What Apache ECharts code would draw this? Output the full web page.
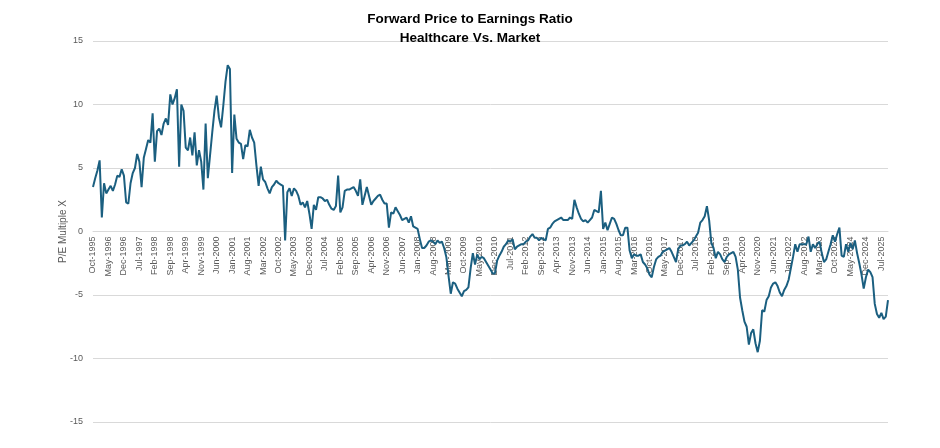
<!DOCTYPE html>
<html>
<head>
<meta charset="utf-8">
<script src="https://cdn.jsdelivr.net/npm/echarts@6/dist/echarts.min.js"></script>
<style>html,body{margin:0;padding:0;background:#fff;}#c{width:940px;height:448px;}</style>
</head>
<body>
<div id="c"></div>
<script>
const titleLines = ['Forward Price to Earnings Ratio', 'Healthcare Vs. Market'];
const yAxisName = 'P/E Multiple X';
const monthNames = ['Jan','Feb','Mar','Apr','May','Jun','Jul','Aug','Sep','Oct','Nov','Dec'];
const startYear = 1995, startMonthIndex = 9; // Oct-1995
const yTicks = { min: -15, max: 15, interval: 5 };

// Monthly values, Oct-1995 .. Oct-2025
const peRelative = [
  3.5, 4.2, 4.8, 5.6, 1.1, 3.8, 3.0, 3.3, 3.6, 3.2,
  3.7, 4.4, 4.3, 4.9, 4.4, 2.3, 2.2, 3.8, 4.6, 5.0,
  6.1, 5.5, 3.5, 5.8, 6.5, 7.2, 7.0, 9.3, 5.5, 7.9,
  8.1, 7.6, 8.5, 8.9, 8.4, 10.8, 10.0, 10.5, 11.2, 5.1,
  10.0, 9.5, 6.6, 6.4, 7.4, 6.0, 7.8, 5.2, 6.4, 5.5,
  3.3, 8.5, 4.2, 6.0, 7.8, 9.5, 10.7, 9.0, 8.2, 9.9,
  11.8, 13.1, 12.8, 4.6, 9.2, 7.3, 7.0, 6.9, 5.7, 6.8,
  6.7, 8.0, 7.4, 7.0, 5.2, 3.6, 5.1, 4.1, 3.9, 3.4,
  3.0, 3.5, 3.7, 4.0, 3.8, 3.7, 3.6, -0.7, 3.1, 3.4,
  2.8, 3.4, 3.2, 2.8, 2.1, 2.3, 1.9, 2.4, 1.4, 0.2,
  2.1, 1.7, 2.7, 2.7, 2.6, 2.4, 2.5, 2.1, 1.8, 1.7,
  2.0, 4.4, 1.5, 1.9, 3.2, 3.3, 3.3, 3.4, 3.5, 3.2,
  2.8, 4.1, 2.1, 2.8, 3.5, 2.8, 2.1, 2.4, 2.6, 2.8,
  2.9, 2.5, 2.2, 2.2, 0.3, 1.5, 1.4, 1.9, 1.6, 1.3,
  0.9, 1.0, 1.1, 0.7, 1.2, 0.4, 0.3, 0.2, -0.6, -1.3,
  -1.3, -1.1, -0.8, -0.7, -0.8, -1.0, -0.7, -0.9, -0.8, -1.3,
  -2.0, -3.5, -4.9, -4.0, -4.1, -4.5, -4.8, -5.1, -4.7, -4.6,
  -4.4, -2.9, -1.7, -2.6, -1.8, -2.2, -2.0, -2.1, -2.4, -2.7,
  -3.0, -3.3, -3.3, -2.3, -1.9, -1.6, -1.2, -1.0, -0.7, -0.8,
  -0.6, -1.4, -1.2, -1.1, -1.0, -1.0, -0.8, -0.7, -0.4, -0.2,
  -0.5, -0.5, -0.7, -0.5, -0.6, -0.7, 0.2, 0.3, 0.6, 0.8,
  0.9, 1.0, 1.1, 0.9, 0.9, 0.9, 1.1, 1.0, 2.5, 1.9,
  1.4, 1.0, 0.8, 0.9, 0.7, 0.9, 1.1, 1.7, 1.6, 1.5,
  3.2, 0.2, 0.7, 0.1, 0.6, 1.1, 1.0, 0.6, 0.1, -0.3,
  -0.3, 0.3, 0.3, -1.5, -2.1, -1.8, -1.9, -1.9, -1.8, -2.4,
  -2.6, -2.9, -3.4, -3.6, -2.8, -2.2, -2.0, -1.9, -1.6, -1.5,
  -1.4, -1.3, -1.6, -2.0, -2.4, -1.4, -1.1, -1.1, -1.0, -0.8,
  -1.1, -0.9, -0.7, -0.4, -0.1, 0.7, 0.9, 1.2, 2.0, 0.9,
  -0.9, -1.3, -2.1, -1.6, -1.8, -2.2, -2.4, -2.0, -1.8, -1.7,
  -1.6, -2.0, -3.0, -5.2, -6.2, -7.1, -7.5, -8.9, -8.0, -7.7,
  -8.8, -9.5, -8.6, -6.2, -6.3, -5.4, -5.1, -4.4, -4.1, -4.0,
  -4.3, -4.8, -5.1, -4.6, -4.3, -3.8, -2.9, -2.0, -1.0, -1.6,
  -1.0, -1.0, -1.0, -1.0, -0.4, -1.6, -1.0, -1.3, -1.0, -0.8,
  -1.7, -2.4, -2.2, -1.6, -1.0, -0.3, -0.8, -0.2, 0.3, -1.9,
  -2.0, -1.0, -1.6, -0.9, -1.4, -0.7, -1.7, -2.5, -3.4, -4.5,
  -3.6, -3.0, -3.2, -3.6, -5.7, -6.5, -6.8, -6.4, -6.9, -6.7,
  -5.4
];

const categories = peRelative.map((_, i) => {
  const m = startMonthIndex + i;
  return monthNames[m % 12] + '-' + (startYear + Math.floor(m / 12));
});

const W = 940, H = 448;
const gridTop = 41, gridBottom = 26;
const plotH = H - gridTop - gridBottom;
// distance from bottom of plot up to the zero line
const zeroOffset = plotH * (0 - yTicks.min) / (yTicks.max - yTicks.min);

const chart = echarts.init(document.getElementById('c'));
chart.setOption({
  animation: false,
  backgroundColor: '#ffffff',
  title: {
    text: titleLines.join('\n'),
    left: 'center',
    top: 5,
    textStyle: {
      fontFamily: 'Liberation Sans, Arial, sans-serif',
      fontWeight: 'bold',
      fontSize: 13.5,
      color: '#000000',
      lineHeight: 19
    }
  },
  grid: { left: 93, right: 52, top: gridTop, bottom: gridBottom, containLabel: false, outerBoundsMode: 'none' },
  xAxis: {
    type: 'category',
    data: categories,
    boundaryGap: false,
    offset: -zeroOffset,
    axisLine: { onZero: false, lineStyle: { color: '#d9d9d9' } },
    axisTick: { show: false },
    axisLabel: {
      interval: 6,
      rotate: 90,
      fontSize: 9,
      color: '#595959',
      fontFamily: 'Liberation Sans, Arial, sans-serif',
      margin: 5
    },
    splitLine: { show: false }
  },
  yAxis: {
    type: 'value',
    min: yTicks.min,
    max: yTicks.max,
    interval: yTicks.interval,
    name: yAxisName,
    nameLocation: 'middle',
    nameGap: 25,
    nameMoveOverlap: false,
    nameTextStyle: { fontSize: 10, color: '#595959', fontFamily: 'Liberation Sans, Arial, sans-serif' },
    axisLine: { show: false },
    axisTick: { show: false },
    axisLabel: { fontSize: 9, color: '#595959', margin: 10, fontFamily: 'Liberation Sans, Arial, sans-serif' },
    splitLine: { lineStyle: { color: '#d9d9d9', width: 1 } }
  },
  series: [{
    type: 'line',
    data: peRelative,
    showSymbol: false,
    symbol: 'none',
    lineStyle: { color: '#1b5f80', width: 2 },
    z: 5
  }]
});
</script>
</body>
</html>
